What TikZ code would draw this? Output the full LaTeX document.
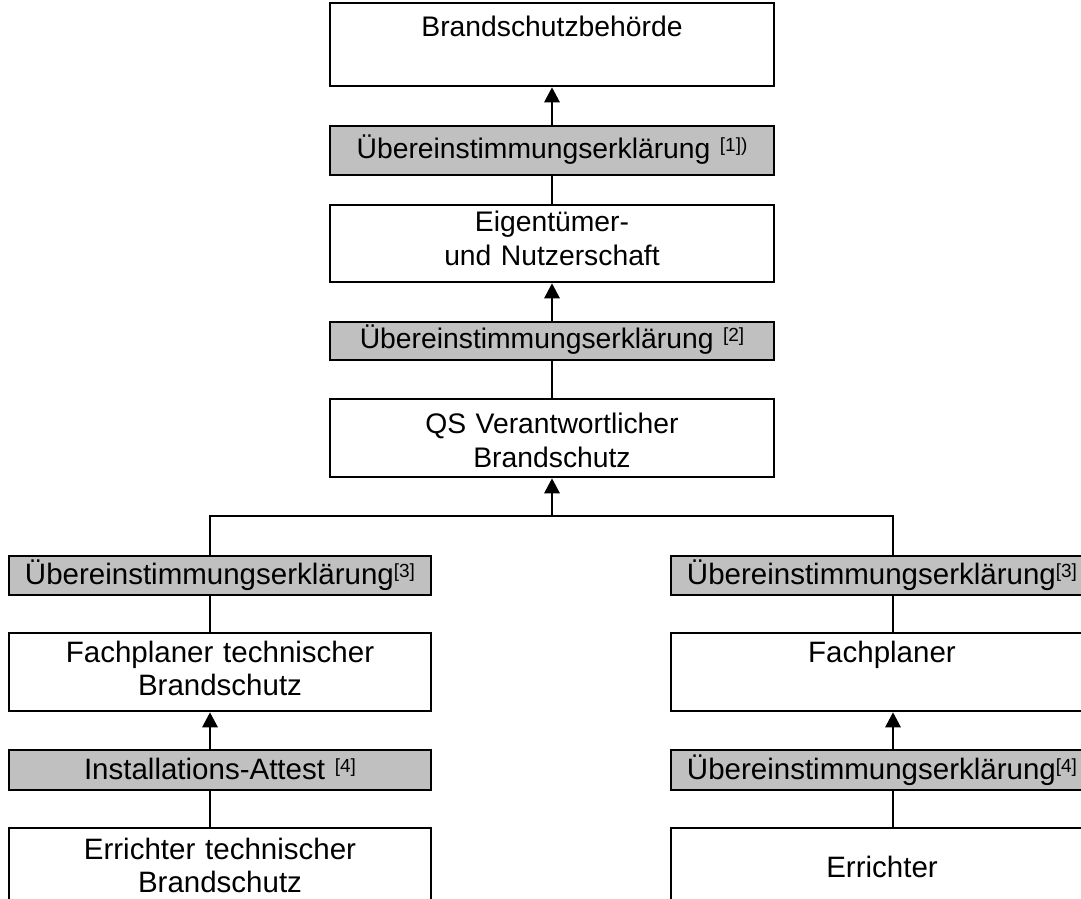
\documentclass[tikz,border=0pt]{standalone}
\usepackage{fontspec}
\setmainfont{Liberation Sans}
\usepackage{tikz}
\usetikzlibrary{arrows.meta}
\definecolor{silber}{RGB}{192,192,192}
\newcommand{\hoch}[1]{\raisebox{7pt}{\fontsize{19}{19}\selectfont #1}}

\begin{document}
\begin{tikzpicture}[x=1pt, y=-1pt,
  box/.style={draw, line width=2.5pt, inner sep=0pt, align=center},
  oben/.style={box, text width=444pt, font=\fontsize{28.3}{34}\selectfont},
  unten/.style={box, text width=422pt, font=\fontsize{29.5}{33.5}\selectfont},
  grau/.style={fill=silber},
  pfeil/.style={line width=2.8pt, -{Triangle[width=15pt,length=15pt]}},
  linie/.style={line width=2.5pt}]
\useasboundingbox (0,0) rectangle (1081,899);
\clip (0,0) rectangle (1081,899);
% Hauptstrang
\node[oben, text height=34pt, text depth=49pt] (behoerde) at (552,44.5) {Brandschutzbehörde};
\node[oben, grau, text height=32pt, text depth=17pt] (ue1) at (552,150.5) {Übereinstimmungserklärung \hoch{[1])}};
\node[oben, text height=26pt, text depth=51pt] (eigen) at (552,243.5) {Eigentümer-\\und Nutzerschaft};
\node[oben, grau, text height=26pt, text depth=12pt] (ue2) at (552,341) {Übereinstimmungserklärung \hoch{[2]}};
\node[oben, text height=34pt, text depth=44pt] (qs) at (552,438) {QS Verantwortlicher\\Brandschutz};
\coordinate (verz) at (552,516);
\coordinate (achseL) at (210,0);
\coordinate (achseR) at (893,0);
% linker Strang
\node[unten, grau, text height=28pt, text depth=11pt] (ue3L) at (220,575.5) {Übereinstimmungserklärung\hoch{[3]}};
\node[unten, text height=29pt, text depth=49pt] (fachL) at (220,672) {Fachplaner technischer\\Brandschutz};
\node[unten, grau, text height=29pt, text depth=11pt] (attest) at (220,770) {Installations-Attest \hoch{[4]}};
\node[unten, text height=31pt, text depth=91pt] (errL) at (220,889) {Errichter technischer\\Brandschutz};
% rechter Strang
\node[unten, grau, text height=28pt, text depth=11pt] (ue3R) at (882,575.5) {Übereinstimmungserklärung\hoch{[3]}};
\node[unten, text height=29pt, text depth=49pt] (fachR) at (882,672) {Fachplaner};
\node[unten, grau, text height=29pt, text depth=11pt] (ue4R) at (882,770) {Übereinstimmungserklärung\hoch{[4]}};
\node[unten, text height=49pt, text depth=73pt] (errR) at (882,889) {Errichter};
% Verbindungen
\draw[pfeil] (ue1.north) -- (behoerde.south);
\draw[linie] (eigen.north) -- (ue1.south);
\draw[pfeil] (ue2.north) -- (eigen.south);
\draw[linie] (qs.north) -- (ue2.south);
\draw[pfeil] (verz) -- (qs.south);
\draw[linie] (ue3L.north -| achseL) |- (verz) -| (ue3R.north -| achseR);
\draw[linie] (ue3L.south -| achseL) -- (fachL.north -| achseL);
\draw[pfeil] (attest.north -| achseL) -- (fachL.south -| achseL);
\draw[linie] (attest.south -| achseL) -- (errL.north -| achseL);
\draw[linie] (ue3R.south -| achseR) -- (fachR.north -| achseR);
\draw[pfeil] (ue4R.north -| achseR) -- (fachR.south -| achseR);
\draw[linie] (ue4R.south -| achseR) -- (errR.north -| achseR);
\end{tikzpicture}
\end{document}
